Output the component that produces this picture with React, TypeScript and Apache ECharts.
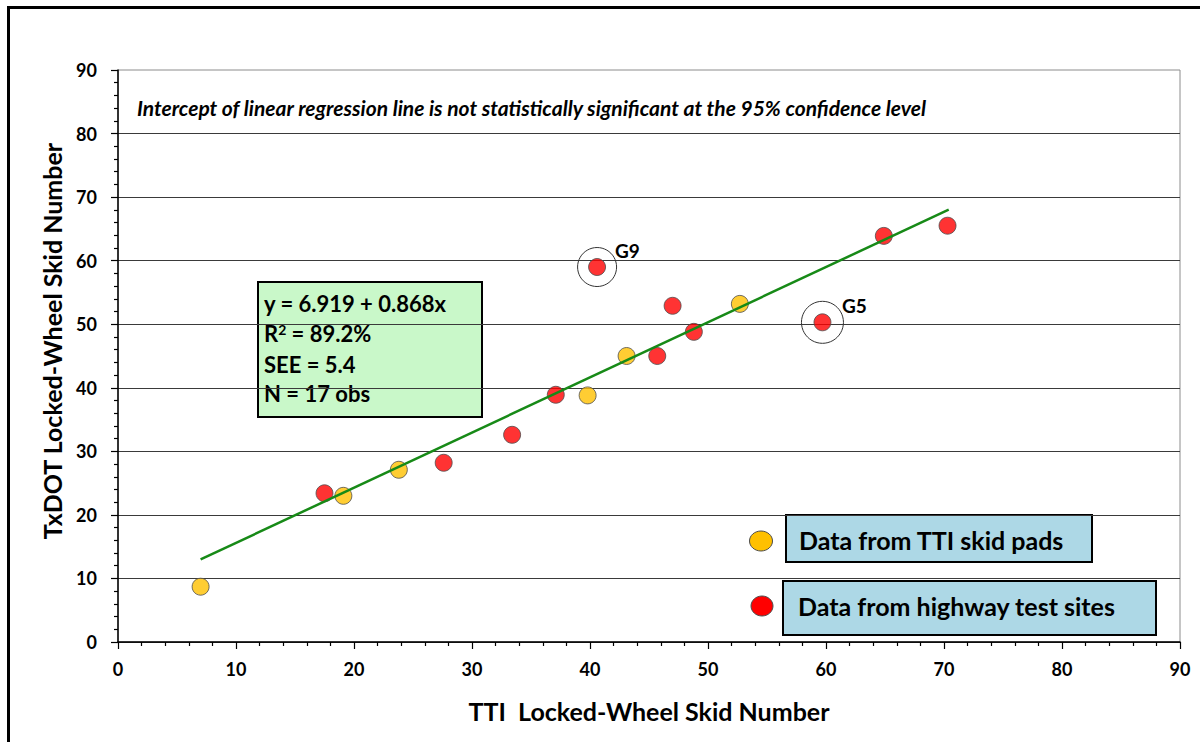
import React, { useEffect, useRef } from "react";
import * as echarts from "echarts";

// ---- data ----
const ttiX = [7.0, 19.1, 23.8, 39.8, 43.1, 52.7];
const ttiY = [8.7, 23.0, 27.1, 38.8, 45.0, 53.2];
const hwX = [17.5, 27.6, 33.4, 37.1, 40.6, 45.7, 47.0, 48.8, 59.7, 64.9, 70.3];
const hwY = [23.4, 28.2, 32.6, 38.9, 59.0, 45.0, 52.9, 48.8, 50.3, 63.9, 65.5];
const outlierNames = ["G9", "G5"];
const outlierX = [40.6, 59.7];
const outlierY = [59.0, 50.3];
const outlierRingSize = [39, 42];
const intercept = 6.919;
const slope = 0.868;
const regRangeX = [7.0, 70.4];
const r2Text = "89.2%";
const seeText = "5.4";
const nObs = 17;
const axisTicks = [0, 10, 20, 30, 40, 50, 60, 70, 80, 90];
const xTitle = "TTI  Locked-Wheel Skid Number";
const yTitle = "TxDOT Locked-Wheel Skid Number";
const noteText =
  "Intercept of linear regression line is not statistically significant at the 95% confidence level";
const legendNames = ["Data from TTI skid pads", "Data from highway test sites"];

const FONT = "Lato, 'Open Sans', sans-serif";

export default function App() {
  const ref = useRef<HTMLDivElement>(null);
  useEffect(() => {
    if (!ref.current) return;
    const chart = echarts.init(ref.current, null, { renderer: "svg" });
    const tti = ttiX.map((x, i) => [x, ttiY[i]]);
    const hw = hwX.map((x, i) => [x, hwY[i]]);
    const reg = regRangeX.map((x) => [x, intercept + slope * x]);
    const axMin = axisTicks[0];
    const axMax = axisTicks[axisTicks.length - 1];
    const axInt = axisTicks[1] - axisTicks[0];

    const commonAxis = {
      type: "value",
      min: axMin,
      max: axMax,
      interval: axInt,
      axisLine: { show: true, onZero: false, lineStyle: { color: "#000", width: 1.5 } },
      axisTick: { show: true, inside: false, length: 7, lineStyle: { color: "#000", width: 1.2 } },
      minorTick: { show: true, splitNumber: 5, length: 4, lineStyle: { color: "#000", width: 1.2 } },
      axisLabel: { color: "#000", fontFamily: FONT, fontWeight: "bold", fontSize: 18 },
    };

    chart.setOption({
      animation: false,
      backgroundColor: "#fff",
      grid: {
        left: 118,
        right: 20,
        top: 70,
        bottom: 100,
        show: true,
        borderColor: "#8c8c8c",
        borderWidth: 1,
        backgroundColor: "transparent",
      },
      xAxis: {
        ...commonAxis,
        name: xTitle,
        nameLocation: "middle",
        nameGap: 56,
        nameTextStyle: { color: "#000", fontFamily: FONT, fontWeight: "bold", fontSize: 25 },
        splitLine: { show: false },
        axisLabel: { ...commonAxis.axisLabel, margin: 18 },
      },
      yAxis: {
        ...commonAxis,
        name: yTitle,
        nameLocation: "middle",
        nameGap: 54,
        nameRotate: 90,
        nameTextStyle: {
          color: "#000",
          fontFamily: FONT,
          fontWeight: "bold",
          fontSize: 25,
          padding: [0, 0, 0, 30],
        },
        splitLine: { show: true, showMaxLine: false, lineStyle: { color: "#3a3a3a", width: 1 } },
        axisLabel: { ...commonAxis.axisLabel, margin: 21 },
      },
      series: [
        {
          name: legendNames[0],
          type: "scatter",
          data: tti,
          symbolSize: 17,
          z: 2,
          itemStyle: { color: "#FFC000", borderColor: "#4d4d4d", borderWidth: 1 },
        },
        {
          name: legendNames[1],
          type: "scatter",
          data: hw,
          symbolSize: 17,
          z: 2,
          itemStyle: { color: "#FF0000", borderColor: "#4d4d4d", borderWidth: 1 },
          markPoint: {
            symbol: "circle",
            silent: true,
            itemStyle: { color: "rgba(0,0,0,0)", borderColor: "#333", borderWidth: 1 },
            data: outlierNames.map((n, i) => ({
              name: n,
              coord: [outlierX[i], outlierY[i]],
              symbolSize: outlierRingSize[i],
              label: {
                show: true,
                formatter: n,
                position: "right",
                distance: 0,
                offset: [-2, -17],
                color: "#000",
                fontFamily: FONT,
                fontWeight: "bold",
                fontSize: 19,
              },
            })),
          },
        },
        {
          name: "Regression",
          type: "line",
          data: reg,
          showSymbol: false,
          symbol: "none",
          z: 3,
          lineStyle: { color: "#178a17", width: 2.5 },
        },
      ],
      graphic: [
        {
          type: "rect",
          shape: { x: 8.5, y: 7.5, width: 1300, height: 900 },
          style: { fill: "none", stroke: "#000", lineWidth: 3 },
          silent: true,
        },
        {
          type: "text",
          x: 137,
          y: 107,
          style: {
            text: noteText,
            fill: "#000",
            font: `italic bold 21px ${FONT}`,
            verticalAlign: "middle",
          },
        },
        {
          type: "rect",
          shape: { x: 258, y: 282, width: 224, height: 135 },
          style: { fill: "#c9f8c9", stroke: "#000", lineWidth: 2 },
        },
        {
          type: "text",
          x: 264,
          y: 303,
          style: {
            text: `y = ${intercept} + ${slope}x`,
            fill: "#000",
            font: `bold 22px ${FONT}`,
            verticalAlign: "middle",
          },
        },
        {
          type: "text",
          x: 264,
          y: 333,
          style: {
            text: `R{sup|2} = ${r2Text}`,
            fill: "#000",
            font: `bold 22px ${FONT}`,
            verticalAlign: "middle",
            rich: {
              sup: { fontSize: 14, fontWeight: "bold", fontFamily: FONT, verticalAlign: "top", padding: [0, 0, 8, 0] },
            },
          },
        },
        {
          type: "text",
          x: 264,
          y: 364,
          style: {
            text: `SEE = ${seeText}`,
            fill: "#000",
            font: `bold 22px ${FONT}`,
            verticalAlign: "middle",
          },
        },
        {
          type: "text",
          x: 264,
          y: 393,
          style: {
            text: `N = ${nObs} obs`,
            fill: "#000",
            font: `bold 22px ${FONT}`,
            verticalAlign: "middle",
          },
        },
        {
          type: "ellipse",
          shape: { cx: 761, cy: 541, rx: 11.5, ry: 10 },
          style: { fill: "#FFC000", stroke: "#4d4d4d", lineWidth: 1 },
        },
        {
          type: "rect",
          shape: { x: 786, y: 515, width: 306, height: 47 },
          style: { fill: "#add8e6", stroke: "#000", lineWidth: 2 },
        },
        {
          type: "text",
          x: 799,
          y: 540,
          style: {
            text: legendNames[0],
            fill: "#000",
            font: `bold 25px ${FONT}`,
            verticalAlign: "middle",
          },
        },
        {
          type: "ellipse",
          shape: { cx: 762, cy: 606, rx: 11, ry: 10 },
          style: { fill: "#FF0000", stroke: "#4d4d4d", lineWidth: 1 },
        },
        {
          type: "rect",
          shape: { x: 783, y: 581, width: 373, height: 54 },
          style: { fill: "#add8e6", stroke: "#000", lineWidth: 2 },
        },
        {
          type: "text",
          x: 798,
          y: 606,
          style: {
            text: legendNames[1],
            fill: "#000",
            font: `bold 25px ${FONT}`,
            verticalAlign: "middle",
          },
        },
      ],
    });
    return () => chart.dispose();
  }, []);
  return (
    <div
      ref={ref}
      style={{ position: "absolute", left: 0, top: 0, width: 1200, height: 742 }}
    />
  );
}
